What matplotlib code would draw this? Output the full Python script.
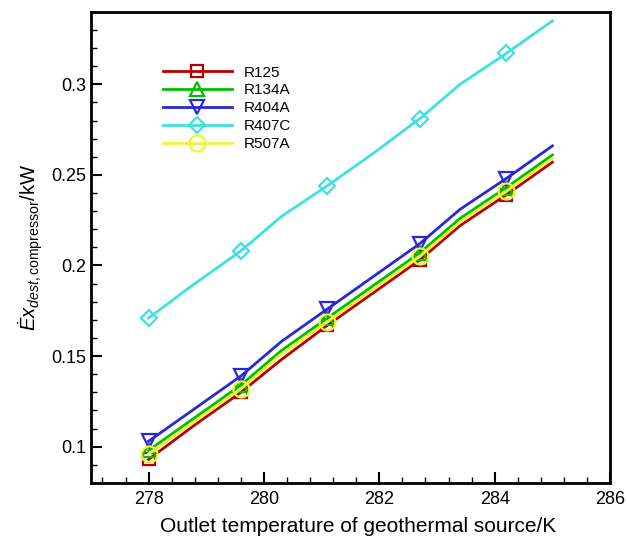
import matplotlib
matplotlib.use("Agg")
import matplotlib.pyplot as plt
from matplotlib.ticker import MultipleLocator

plt.rcParams['font.family'] = ['Liberation Sans', 'DejaVu Sans']
plt.rcParams['mathtext.fontset'] = 'custom'
plt.rcParams['mathtext.rm'] = 'Liberation Sans'
plt.rcParams['mathtext.it'] = 'Liberation Sans:italic'

# data
T = [278.0, 278.8, 279.6, 280.3, 281.1, 281.9, 282.7, 283.4, 284.2, 285.0]
R125 = [0.093, 0.112, 0.130, 0.148, 0.167, 0.185, 0.203, 0.222, 0.239, 0.257]
R134A = [0.098, 0.116, 0.134, 0.153, 0.171, 0.189, 0.207, 0.226, 0.243, 0.261]
R404A = [0.103, 0.121, 0.139, 0.158, 0.176, 0.194, 0.212, 0.231, 0.248, 0.266]
R407C = [0.171, 0.190, 0.208, 0.227, 0.244, 0.262, 0.281, 0.300, 0.317, 0.335]
R507A = [0.096, 0.114, 0.132, 0.151, 0.169, 0.187, 0.205, 0.224, 0.241, 0.259]

series = [
    ("R125", R125, "#b80000", "s", 9),
    ("R134A", R134A, "#00c000", "^", 10),
    ("R404A", R404A, "#2828d8", "v", 10),
    ("R407C", R407C, "#3ee0e0", "D", 8.5),
    ("R507A", R507A, "#f2f23a", "o", 11.5),
]

fig = plt.figure(figsize=(6.27, 5.36), dpi=100)
ax = fig.add_axes([0.145, 0.099, 0.828, 0.879])

for name, vals, col, mk, ms in series:
    ax.plot(T, vals, color=col, lw=2, marker=mk, markevery=2, ms=ms,
            mfc='none', mec=col, mew=1.6, label=name)

ax.set_xlim(277, 286)
ax.set_ylim(0.08, 0.34)
ax.xaxis.set_major_locator(MultipleLocator(2))
ax.xaxis.set_minor_locator(MultipleLocator(0.4))
ax.yaxis.set_major_locator(MultipleLocator(0.05))
ax.yaxis.set_minor_locator(MultipleLocator(0.01))
ax.yaxis.set_major_formatter(matplotlib.ticker.FuncFormatter(lambda v, p: ('%g' % round(v, 3))))
ax.tick_params(which='both', direction='in', top=False, right=False, labelsize=13)
ax.tick_params(axis='x', which='major', pad=6)
ax.tick_params(which='major', length=8, width=1.5)
ax.tick_params(which='minor', length=4, width=1)
for s in ax.spines.values():
    s.set_linewidth(2)

ax.set_xlabel("Outlet temperature of geothermal source/K", fontsize=15, labelpad=6)
ax.xaxis.set_label_coords(0.514, -0.073)
ax.set_ylabel(r"$\dot{E}x_{dest,\mathrm{compressor}}$/kW", fontsize=14.5)

leg = ax.legend(loc='upper left', bbox_to_anchor=(0.112, 0.915), frameon=False,
                fontsize=11, handlelength=4.5, labelspacing=0.25, handletextpad=0.8)

fig.savefig("out.png", dpi=100)
